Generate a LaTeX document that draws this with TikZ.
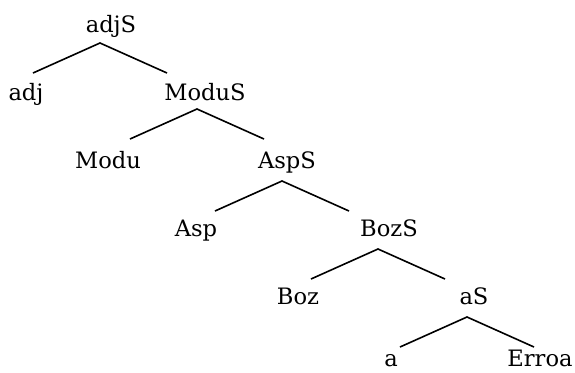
\documentclass[tikz,border=0pt]{standalone}
\usepackage{fontspec}
\setmainfont{DejaVu Serif}
\begin{document}
\begin{tikzpicture}[x=0.5pt,y=-0.5pt,
    lbl/.style={anchor=base,inner sep=0pt,font=\fontsize{11.3}{13}\selectfont},
    branch/.style={line width=0.8pt}]
    \useasboundingbox (0,0) rectangle (575,372);
    \node[lbl] (adjS) at (111,32) {adjS};
    \node[lbl] (adj) at (26,100) {adj};
    \node[lbl] (ModuS) at (205,100) {ModuS};
    \node[lbl] (Modu) at (108,168) {Modu};
    \node[lbl] (AspS) at (287,168) {AspS};
    \node[lbl] (Asp) at (196,236) {Asp};
    \node[lbl] (BozS) at (389,236) {BozS};
    \node[lbl] (Boz) at (298,304) {Boz};
    \node[lbl] (aS) at (474,304) {aS};
    \node[lbl] (a) at (391,366) {a};
    \node[lbl] (Erroa) at (540,366) {Erroa};
    \foreach \p/\x/\y in {adjS/100/43,ModuS/197/109,AspS/282/181,BozS/378/249,aS/467/317}{
        \coordinate (\p-t) at (\x,\y);
        \coordinate (\p-l) at (\x-67,\y+30);
        \coordinate (\p-r) at (\x+67,\y+30);
        \draw[branch] (\p-l) -- (\p-t) -- (\p-r);
    }
\end{tikzpicture}
\end{document}
